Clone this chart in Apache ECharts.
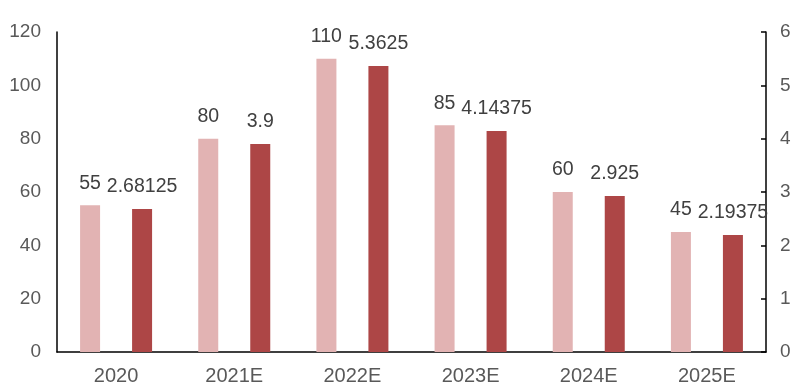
<!DOCTYPE html>
<html><head><meta charset="utf-8">
<script src="https://cdn.jsdelivr.net/npm/echarts@6/dist/echarts.min.js"></script>
<style>html,body{margin:0;padding:0;background:#fff}#c{width:800px;height:389px}</style>
</head><body><div id="c"></div>
<script>
const categories = ['2020', '2021E', '2022E', '2023E', '2024E', '2025E'];
const leftValues = [55, 80, 110, 85, 60, 45];
const rightValues = [2.68125, 3.9, 5.3625, 4.14375, 2.925, 2.19375];
const leftTicks = { min: 0, max: 120, interval: 20 };
const rightTicks = { min: 0, max: 6, interval: 1 };

const font = 'Liberation Sans, Arial, sans-serif';
const chart = echarts.init(document.getElementById('c'));
chart.setOption({
  animation: false,
  grid: { left: 57, right: 34, top: 32, bottom: 37 },
  xAxis: {
    type: 'category', data: categories,
    axisLine: { lineStyle: { color: '#000', width: 1.5 } },
    axisTick: { show: false },
    axisLabel: { color: '#595959', fontSize: 20, fontFamily: font, margin: 14 }
  },
  yAxis: [
    { type: 'value', min: leftTicks.min, max: leftTicks.max, interval: leftTicks.interval,
      splitLine: { show: false },
      axisLine: { show: true, lineStyle: { color: '#000', width: 1.5 } },
      axisTick: { show: false },
      axisLabel: { color: '#595959', fontSize: 19, fontFamily: font, margin: 16 } },
    { type: 'value', min: rightTicks.min, max: rightTicks.max, interval: rightTicks.interval,
      position: 'right',
      splitLine: { show: false },
      axisLine: { show: true, lineStyle: { color: '#000', width: 1.5 } },
      axisTick: { show: true, inside: true, length: 5, lineStyle: { color: '#000', width: 1.5 } },
      axisLabel: { color: '#595959', fontSize: 19, fontFamily: font, margin: 14 } }
  ],
  series: [
    { type: 'bar', data: leftValues, yAxisIndex: 0, barWidth: 20, barGap: '160%',
      itemStyle: { color: '#E2B3B3' },
      label: { show: true, position: 'top', distance: 12, color: '#404040', fontSize: 19.5, fontFamily: font } },
    { type: 'bar', data: rightValues, yAxisIndex: 1, barWidth: 20, barGap: '160%',
      itemStyle: { color: '#AD4646' },
      label: { show: true, position: 'top', distance: 12, color: '#404040', fontSize: 19.5, fontFamily: font } }
  ]
});
</script></body></html>
